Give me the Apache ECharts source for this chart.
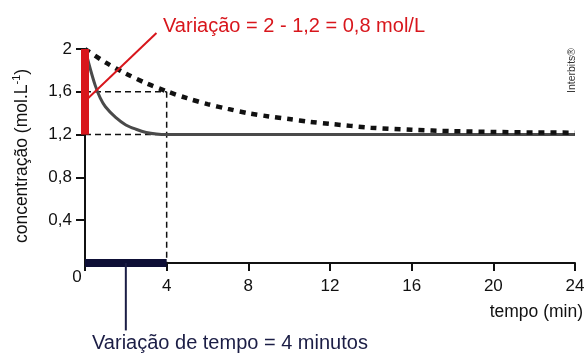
<!DOCTYPE html>
<html>
<head>
    <meta charset="utf-8">
    <style type="text/css">
        html,body { margin: 0px; padding: 0px; background: #fff; }
        #chart { width: 588px; height: 354px; }
    </style>
    <script src="https://cdn.jsdelivr.net/npm/echarts@6/dist/echarts.min.js"></script>
</head>
<body>
    <div id="chart"></div>
    <script type="text/javascript">
        // curva tracejada (reacao lenta)
        var tempoLenta = [0, 1, 2, 3, 4, 5, 6, 7, 8, 9, 10, 11, 12, 14, 16, 18, 20, 22, 24];
        var concLenta  = [2, 1.875, 1.77, 1.68, 1.605, 1.54, 1.485, 1.44, 1.40, 1.37, 1.345, 1.32, 1.30, 1.265, 1.245, 1.232, 1.225, 1.22, 1.218];
        // curva continua (reacao rapida)
        var tempoRapida = [0, 0.25, 0.5, 0.75, 1, 1.5, 2, 2.5, 3, 3.5, 4, 24];
        var concRapida  = [2, 1.82, 1.66, 1.54, 1.46, 1.36, 1.29, 1.25, 1.22, 1.205, 1.2, 1.2];
        // guias e destaques
        var guia16 = [[0, 1.6], [4, 1.6]];
        var guia12 = [[0, 1.2], [4, 1.2]];
        var guiaT4 = [[4, 1.6], [4, 0]];
        var barraConc = [[0, 2], [0, 1.2]];
        var setaConc = [[0.15, 1.54], [3.5, 2.15]];
        var barraTempo = [[0, 0], [4, 0]];
        var setaTempo = [[2, 0], [2, -0.63]];

        var FONT = 'Liberation Sans, Arial, sans-serif';

        function pares(xs, ys) {
            var out = [];
            for (var i = 0; i < xs.length; i++) out.push([xs[i], ys[i]]);
            return out;
        }
        function linha(data, color, width, type, extra) {
            var s = {
                type: 'line', data: data, showSymbol: false, silent: true,
                clip: false, animation: false,
                lineStyle: { color: color, width: width, type: type, cap: 'butt' }
            };
            for (var k in extra) s[k] = extra[k];
            return s;
        }

        var myChart = echarts.init(document.getElementById('chart'));
        var option = {
            animation: false,
            grid: { left: 85, right: 13, top: 49, bottom: 91, containLabel: false },
            xAxis: {
                type: 'value', min: 0, max: 24, interval: 4,
                name: 'tempo (min)', nameLocation: 'end', nameGap: 8,
                nameTextStyle: { fontFamily: FONT, fontSize: 17.5, color: '#111', align: 'right', verticalAlign: 'top', padding: [40, 0, 0, 0] },
                axisLine: { lineStyle: { color: '#111', width: 2 } },
                axisTick: { length: 8, lineStyle: { color: '#111', width: 2 } },
                splitLine: { show: false },
                axisLabel: {
                    fontFamily: FONT, fontSize: 17, color: '#111', margin: 15,
                    formatter: function (v) { return v === 0 ? '{z|0}' : String(v); },
                    rich: { z: { fontFamily: FONT, fontSize: 17, color: '#111', padding: [-9, 16, 0, 0] } }
                }
            },
            yAxis: {
                type: 'value', min: 0, max: 2, interval: 0.4,
                name: '{a|concentração (mol.L}{s|-1}{a|)}', nameLocation: 'middle', nameGap: 52,
                nameTextStyle: {
                    rich: {
                        a: { fontFamily: FONT, fontSize: 17.5, color: '#111', lineHeight: 22 },
                        s: { fontFamily: FONT, fontSize: 11, color: '#111', verticalAlign: 'top', lineHeight: 22 }
                    }
                },
                axisLine: { lineStyle: { color: '#111', width: 2 } },
                axisTick: { length: 9, lineStyle: { color: '#111', width: 2 } },
                splitLine: { show: false },
                axisLabel: {
                    fontFamily: FONT, fontSize: 17, color: '#111', margin: 13, showMinLabel: false,
                    formatter: function (v) { return String(v).replace('.', ','); }
                }
            },
            graphic: [
                { type: 'text', left: 163, top: 16, style: { text: 'Variação = 2 - 1,2 = 0,8 mol/L', fontFamily: FONT, fontSize: 20, fill: '#d8161c' } },
                { type: 'text', left: 92, top: 333, style: { text: 'Variação de tempo = 4 minutos', fontFamily: FONT, fontSize: 20, fill: '#1b1d45' } },
                { type: 'text', x: 567, y: 93, rotation: Math.PI / 2, style: { text: 'Interbits®', fontFamily: FONT, fontSize: 10.5, fill: '#333', verticalAlign: 'top' } }
            ],
            series: [
                linha(guia16, '#111', 1.5, [6, 4], { z: 3 }),
                linha(guia12, '#111', 1.5, [6, 4], { z: 3 }),
                linha(guiaT4, '#111', 1.5, [6, 4], { z: 3 }),
                linha(pares(tempoRapida, concRapida), '#4a4a4a', 3, 'solid', { smooth: 0.3, z: 4 }),
                linha(pares(tempoLenta, concLenta), '#111', 4.5, [6, 6], { smooth: 0.3, z: 5 }),
                linha(barraConc, '#d8161c', 8, 'solid', { z: 6 }),
                linha(setaConc, '#d8161c', 2, 'solid', { z: 6 }),
                linha(barraTempo, '#0e0f36', 8, 'solid', { z: 6 }),
                linha(setaTempo, '#1b1d45', 2, 'solid', { z: 6 })
            ]
        };
        myChart.setOption(option);
    </script>
</body>
</html>
